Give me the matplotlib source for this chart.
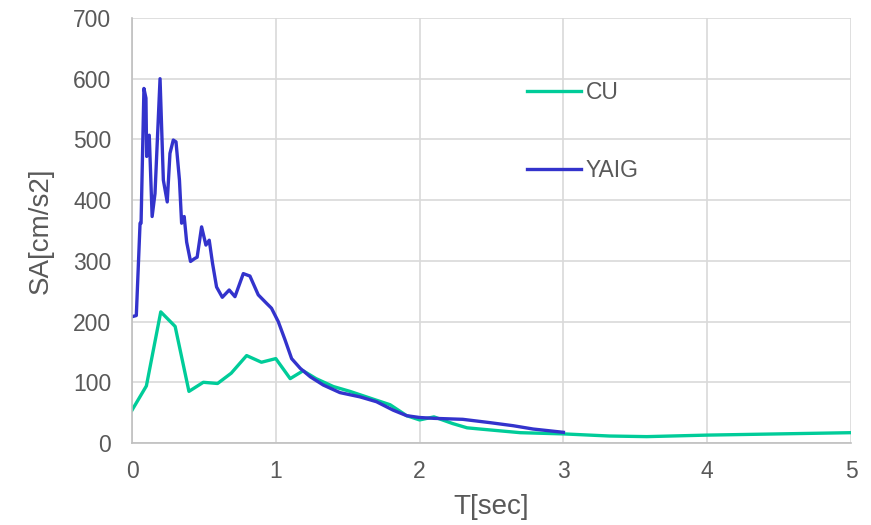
import matplotlib.pyplot as plt

plt.rcParams['font.family'] = ['Liberation Sans', 'DejaVu Sans']

# CU spectrum
cu_t = [0.0, 0.10, 0.20, 0.30, 0.396, 0.496, 0.595, 0.69, 0.797, 0.90, 1.0,
        1.10, 1.19, 1.28, 1.40, 1.516, 1.68, 1.795, 1.91, 2.0, 2.1, 2.23,
        2.33, 2.42, 2.70, 3.0, 3.32, 3.58, 4.0, 4.5, 5.0]
cu_sa = [54, 94, 216, 192, 85, 100, 98, 115, 144, 133, 139,
         106, 119, 106, 93, 85, 72, 63, 45, 38, 43, 32,
         25, 23, 17, 15, 11.5, 10.5, 13, 15, 17]

# YAIG spectrum
yaig_t = [0.0, 0.03, 0.056, 0.063, 0.083, 0.097, 0.102, 0.12, 0.14, 0.16,
          0.195, 0.218, 0.245, 0.264, 0.287, 0.306, 0.33, 0.345, 0.363, 0.38,
          0.407, 0.437, 0.453, 0.484, 0.514, 0.537, 0.56, 0.588, 0.628, 0.676,
          0.716, 0.774, 0.82, 0.878, 0.936, 0.97, 1.017, 1.064, 1.11, 1.17,
          1.24, 1.33, 1.446, 1.585, 1.70, 1.817, 1.91, 2.0, 2.1, 2.30,
          2.49, 2.65, 2.79, 3.0]
yaig_sa = [208, 210, 362, 362, 584, 568, 472, 507, 373, 411,
           600, 433, 397, 477, 499, 496, 433, 362, 373, 331,
           299, 304, 306, 356, 326, 334, 296, 257, 240, 252,
           241, 279, 275, 244, 230, 222, 200, 170, 139, 123,
           109, 95.5, 83, 76, 68, 54, 45, 42, 40.6, 39,
           33.5, 28.5, 23, 17.6]

fig = plt.figure(figsize=(8.71, 5.25), dpi=100)
ax = fig.add_axes([132 / 871, 1 - 443 / 525, (851 - 132) / 871, (443 - 18) / 525])

ax.plot(cu_t, cu_sa, color='#00CC99', lw=2.4, label='CU')
ax.plot(yaig_t, yaig_sa, color='#3333CC', lw=2.4, label='YAIG')

ax.set_xlim(0, 5)
ax.set_ylim(0, 700)
ax.set_xticks(range(0, 6))
ax.set_yticks(range(0, 701, 100))
ax.grid(True, color='#d9d9d9', lw=1.2)
ax.set_axisbelow(True)
for s in ['top', 'right']:
    ax.spines[s].set_visible(False)
for s in ['left', 'bottom']:
    ax.spines[s].set_color('#bfbfbf')
    ax.spines[s].set_linewidth(1.2)
ax.tick_params(length=0, labelsize=16.5, colors='#595959')
ax.tick_params(axis='y', pad=15)
ax.tick_params(axis='x', pad=12)

ax.set_xlabel('T[sec]', fontsize=20, color='#595959', labelpad=8)
ax.set_ylabel('SA[cm/s2]', fontsize=20, color='#595959', labelpad=14)

leg = ax.legend(loc='center left', bbox_to_anchor=(0.549, 0.734), frameon=False,
                fontsize=16.5, labelspacing=2.4, handlelength=2.36,
                handletextpad=0.22, borderpad=0, borderaxespad=0)
for t in leg.get_texts():
    t.set_color('#595959')

fig.savefig('out.png', dpi=100)
